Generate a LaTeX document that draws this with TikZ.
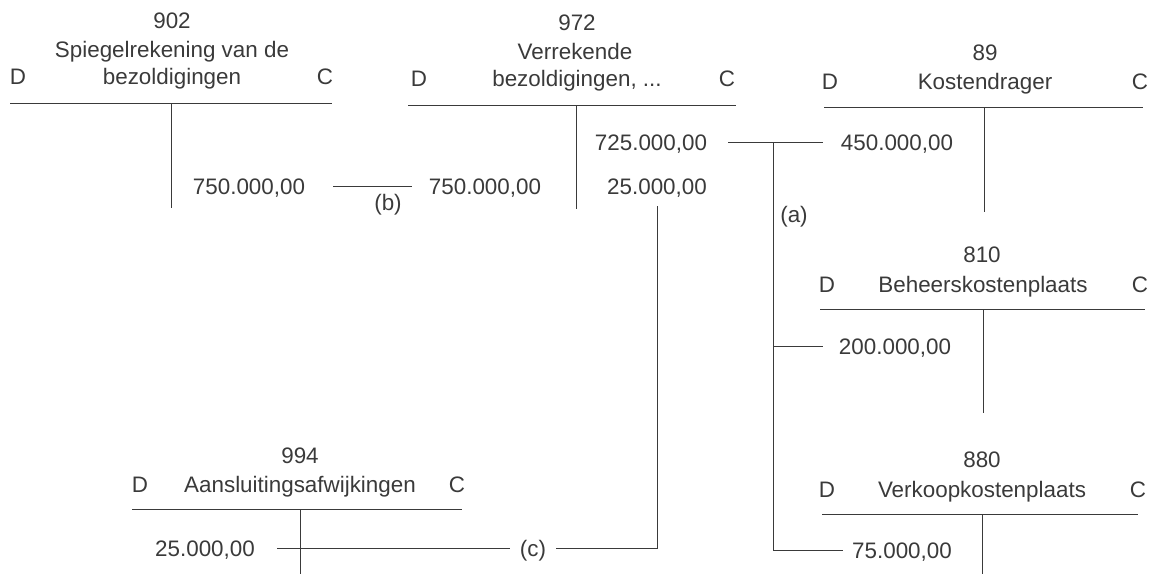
\documentclass[tikz,border=0pt]{standalone}
\usepackage{fontspec}
\setmainfont{Liberation Sans}
\definecolor{ink}{HTML}{3A3A3A}
\begin{document}
\begin{tikzpicture}[x=1pt,y=-1pt,
  every node/.style={font=\fontsize{22.4pt}{27pt}\selectfont, text=ink, inner sep=0pt},
  lbl/.style={anchor=base},
  entry/.style={anchor=center, text height=16pt, text depth=0pt},
  tline/.style={draw=ink, line width=0.9pt},
  conn/.style={draw=ink, line width=0.8pt}]
\useasboundingbox (0,0) rectangle (1154,574);

% 902
\node[lbl] (n902) at (172,28) {902};
\node[lbl] (t902a) at (172,57) {Spiegelrekening van de};
\node[lbl] (t902b) at (172,84) {bezoldigingen};
\node[lbl] (d902) at (18,84) {D};
\node[lbl] (c902) at (325,84) {C};
\draw[tline] (10,103) -- (332,103) (171,103) -- (171,208);
\node[entry] (e902) at (249,186) {750.000,00};

% 972
\node[lbl] (n972) at (577,30) {972};
\node[lbl] (t972a) at (575,59) {Verrekende};
\node[lbl] (t972b) at (577,86) {bezoldigingen, ...};
\node[lbl] (d972) at (419,86) {D};
\node[lbl] (c972) at (727,86) {C};
\draw[tline] (408,105) -- (736,105) (576,105) -- (576,209);
\node[entry] (e972l) at (485,186) {750.000,00};
\node[entry] (e725) at (651,142) {725.000,00};
\node[entry] (e25a) at (657,186) {25.000,00};

% 89
\node[lbl] (n89) at (985,60) {89};
\node[lbl] (t89) at (985,89) {Kostendrager};
\node[lbl] (d89) at (830,89) {D};
\node[lbl] (c89) at (1140,89) {C};
\draw[tline] (824,107) -- (1143,107) (984,107) -- (984,212);
\node[entry] (e450) at (897,142) {450.000,00};

% 810
\node[lbl] (n810) at (982,262) {810};
\node[lbl] (t810) at (983,292) {Beheerskostenplaats};
\node[lbl] (d810) at (827,292) {D};
\node[lbl] (c810) at (1140,292) {C};
\draw[tline] (820,309) -- (1145,309) (983,309) -- (983,413);
\node[entry] (e200) at (895,346) {200.000,00};

% 880
\node[lbl] (n880) at (982,467) {880};
\node[lbl] (t880) at (982,497) {Verkoopkostenplaats};
\node[lbl] (d880) at (827,497) {D};
\node[lbl] (c880) at (1138,497) {C};
\draw[tline] (822,514) -- (1138,514) (982,514) -- (982,574);
\node[entry] (e75) at (902,550) {75.000,00};

% 994
\node[lbl] (n994) at (300,463) {994};
\node[lbl] (t994) at (300,492) {Aansluitingsafwijkingen};
\node[lbl] (d994) at (140,492) {D};
\node[lbl] (c994) at (457,492) {C};
\draw[tline] (132,509) -- (462,509) (300,509) -- (300,574);
\node[entry] (e25b) at (205,548) {25.000,00};

% connector labels
\node[lbl] (lb) at (388,210) {(b)};
\node[lbl] (la) at (794,222) {(a)};
\node[entry] (lc) at (533,548) {(c)};

% (b)
\draw[conn] ([xshift=28pt]e902.east) -- ([xshift=-17pt]e972l.west);
% (a)
\coordinate (aTop) at (773,142);
\draw[conn] ([xshift=21pt]e725.east) -- ([xshift=-18pt]e450.west);
\draw[conn] (aTop) -- (aTop |- e75.west) -- ([xshift=-9pt]e75.west);
\draw[conn] (aTop |- e200.west) -- ([xshift=-16pt]e200.west);
% (c)
\draw[conn] ([xshift=22pt]e25b.east) -- ([xshift=-10pt]lc.west);
\draw[conn] ([xshift=10pt]lc.east) -- (lc -| e25a.south) -- ([yshift=-12pt]e25a.south);
\end{tikzpicture}
\end{document}
